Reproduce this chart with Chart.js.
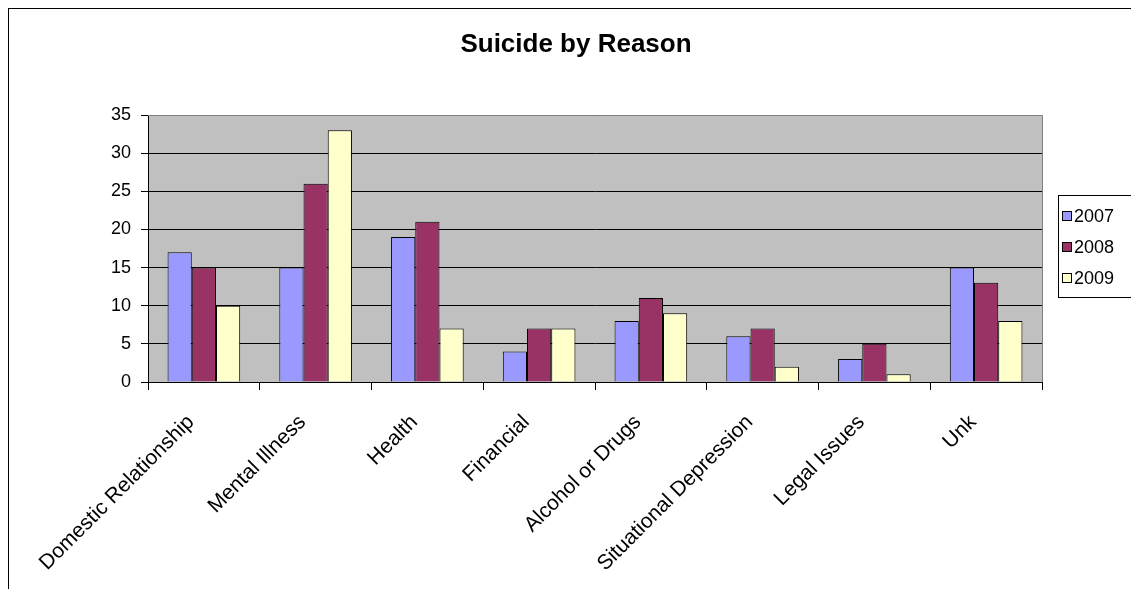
<!DOCTYPE html>
<html>
<head>
<meta charset="utf-8">
<script src="https://cdn.jsdelivr.net/npm/chart.js@4/dist/chart.umd.min.js"></script>
<style>
    html, body { margin: 0; padding: 0; background: #fff; overflow: hidden; }
    #wrap { position: relative; width: 1131px; height: 589px; }
</style>
</head>
<body>
<div id="wrap"><canvas id="chart"></canvas></div>
<script>
// DATA
const categories = ['Domestic Relationship', 'Mental Illness', 'Health', 'Financial',
    'Alcohol or Drugs', 'Situational Depression', 'Legal Issues', 'Unk'];
const seriesNames = ['2007', '2008', '2009'];
const values2007 = [17, 15, 19, 4, 8, 6, 3, 15];
const values2008 = [15, 26, 21, 7, 11, 7, 5, 13];
const values2009 = [10, 33, 7, 7, 9, 2, 1, 8];
const yMax = 35;
const yStep = 5;
const chartTitle = 'Suicide by Reason';

const seriesColors = ['#9999FF', '#993366', '#FFFFCC'];
const fontFamily = '"Liberation Sans", Arial, sans-serif';

Chart.defaults.font.family = fontFamily;
Chart.defaults.color = '#000';

// grey plot area, outer frame, title and boxed legend (Excel 2003 look)
const excelLook = {
    id: 'excelLook',
    beforeDraw(chart) {
        const ctx = chart.ctx;
        const a = chart.chartArea;
        ctx.save();
        ctx.fillStyle = '#fff';
        ctx.fillRect(0, 0, chart.width, chart.height);
        ctx.strokeStyle = '#000';
        ctx.lineWidth = 1;
        ctx.strokeRect(8.5, 8.5, chart.width + 50, chart.height + 50);
        ctx.fillStyle = '#C0C0C0';
        ctx.fillRect(a.left, a.top, a.right - a.left, a.bottom - a.top);
        ctx.restore();
    },
    afterDraw(chart) {
        const ctx = chart.ctx;
        const a = chart.chartArea;
        ctx.save();
        // plot border top / right
        ctx.strokeStyle = '#808080';
        ctx.lineWidth = 1;
        ctx.beginPath();
        ctx.moveTo(a.left, a.top + 0.5);
        ctx.lineTo(a.right + 0.5, a.top + 0.5);
        ctx.lineTo(a.right + 0.5, a.bottom);
        ctx.stroke();

        // title
        ctx.fillStyle = '#000';
        ctx.font = 'bold 26px ' + fontFamily;
        ctx.textAlign = 'center';
        ctx.textBaseline = 'middle';
        ctx.fillText(chartTitle, 576, 45);

        // legend
        ctx.strokeStyle = '#000';
        ctx.strokeRect(1058.5, 195.5, 100, 102);
        ctx.font = '18px ' + fontFamily;
        ctx.textAlign = 'left';
        chart.data.datasets.forEach((ds, i) => {
            const cy = 216 + i * 31;
            ctx.fillStyle = ds.backgroundColor;
            ctx.fillRect(1062.5, cy - 4.5, 9, 9);
            ctx.strokeRect(1062.5, cy - 4.5, 9, 9);
            ctx.fillStyle = '#000';
            ctx.fillText(ds.label, 1074, cy + 1);
        });
        ctx.restore();
    }
};

const datasets = [values2007, values2008, values2009].map((vals, i) => ({
    label: seriesNames[i],
    data: vals,
    backgroundColor: seriesColors[i],
    borderColor: '#000',
    borderWidth: 1,
    categoryPercentage: 0.65,
    barPercentage: 1.0,
}));

new Chart(document.getElementById('chart').getContext('2d'), {
    type: 'bar',
    data: {labels: categories, datasets: datasets},
    plugins: [excelLook],
    options: {
        responsive: true,
        maintainAspectRatio: false,
        animation: false,
        layout: {padding: {left: 8, top: 115, right: 89, bottom: 0}},
        plugins: {
            legend: {display: false},
            title: {display: false},
            tooltip: {enabled: false},
        },
        scales: {
            x: {
                afterFit: (scale) => { scale.height = 207; },
                grid: {drawOnChartArea: false, drawTicks: true, tickLength: 8, color: '#000', offset: true},
                border: {display: true, color: '#000'},
                ticks: {
                    autoSkip: false,
                    minRotation: 45,
                    maxRotation: 45,
                    padding: 20,
                    labelOffset: -13,
                    font: {size: 21},
                    color: '#000',
                },
            },
            y: {
                min: 0,
                max: yMax,
                afterFit: (scale) => { scale.width = 140; },
                grid: {color: '#000', drawTicks: true, tickLength: 7},
                border: {display: true, color: '#000'},
                ticks: {stepSize: yStep, padding: 10, font: {size: 18}, color: '#000'},
            },
        },
    },
});
</script>
</body>
</html>
